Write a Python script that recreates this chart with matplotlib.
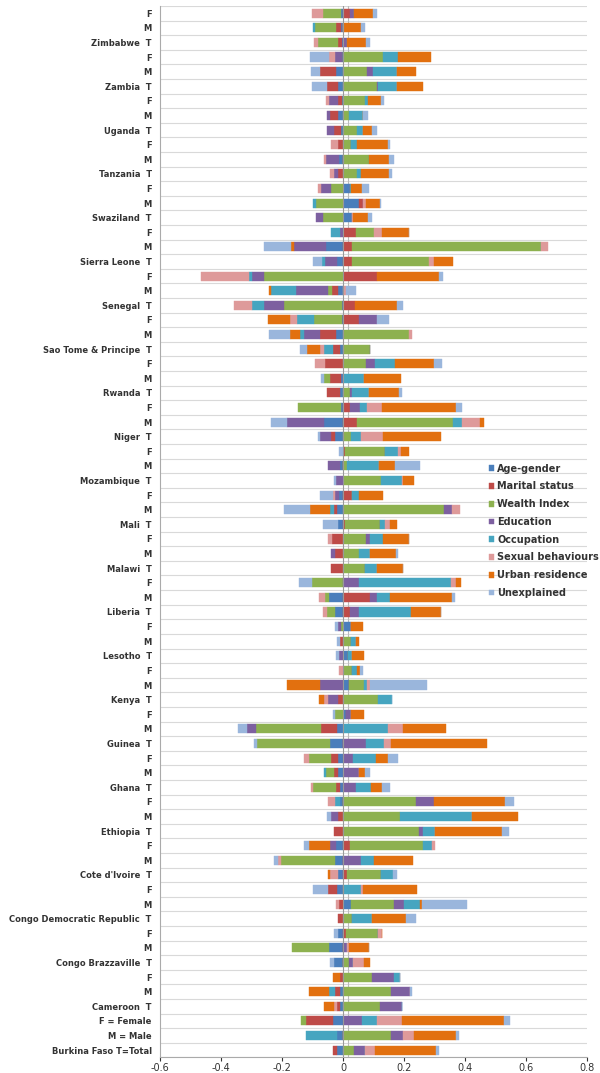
import matplotlib.pyplot as plt
import numpy as np

# countries bottom -> top, each with rows T, M, F
countries = ["Burkina Faso", "Cameroon", "Congo Brazzaville", "Congo Democratic Republic",
             "Cote d'Ivoire", "Ethiopia", "Ghana", "Guinea", "Kenya", "Lesotho", "Liberia",
             "Malawi", "Mali", "Mozambique", "Niger", "Rwanda", "Sao Tome & Principe",
             "Senegal", "Sierra Leone", "Swaziland", "Tanzania", "Uganda", "Zambia", "Zimbabwe"]

series_names = ["Age-gender", "Marital status", "Wealth Index", "Education",
                "Occupation", "Sexual behaviours", "Urban residence", "Unexplained"]
series_colors = ["#4A7EBB", "#BE4B48", "#8DB14F", "#7D60A0",
                 "#46A5C0", "#DE9A9A", "#E2700F", "#9AB6DC"]

# values per row, order: T, M, F for each country (bottom -> top)
age_gender = [
    -0.021, -0.021, -0.034,  -0.011, -0.011, 0.000,  -0.029, -0.046, -0.015,
    0.000, 0.026, -0.021,  -0.016, -0.025, -0.022,  0.000, 0.000, -0.010,
    -0.010, -0.017, -0.018,  -0.043, -0.020, 0.010,  0.000, 0.020, 0.000,
    0.016, 0.000, 0.027,  -0.025, -0.047, 0.000,  0.000, 0.000, 0.000,
    -0.016, -0.020, -0.012,  0.000, -0.010, 0.000,  -0.025, -0.063, -0.008,
    -0.010, -0.008, 0.000,  -0.011, -0.022, -0.005,  -0.005, -0.016, 0.000,
    -0.020, -0.055, 0.000,  0.030, 0.052, 0.022,  0.000, -0.012, 0.000,
    -0.006, -0.016, -0.005,  -0.018, -0.022, -0.005,  -0.005, -0.008, -0.007]
marital = [
    -0.013, 0.000, -0.088,  -0.010, -0.016, -0.009,  0.000, 0.000, 0.010,
    -0.015, -0.013, -0.029,  0.014, 0.000, 0.022,  -0.030, -0.016, 0.000,
    -0.014, -0.014, -0.020,  0.000, -0.052, 0.000,  -0.017, 0.000, 0.000,
    0.000, -0.011, 0.000,  0.024, 0.089, 0.000,  -0.038, -0.027, -0.035,
    0.005, -0.011, 0.029,  0.000, 0.000, 0.008,  -0.014, 0.047, 0.022,
    -0.042, -0.035, -0.060,  -0.023, -0.052, 0.052,  0.038, -0.020, 0.111,
    0.030, 0.030, 0.041,  0.000, 0.015, 0.000,  -0.016, 0.000, -0.017,
    -0.024, -0.026, -0.012,  -0.035, -0.054, 0.000,  -0.010, -0.015, 0.024]
wealth = [
    0.035, 0.157, -0.016,  0.120, 0.157, 0.094,  0.020, -0.123, 0.104,
    0.031, 0.140, 0.000,  0.109, -0.177, 0.242,  0.248, 0.188, 0.240,
    -0.074, -0.024, -0.074,  -0.238, -0.215, -0.027,  0.114, 0.050, 0.029,
    0.000, 0.027, -0.008,  -0.029, -0.013, -0.102,  0.071, 0.051, 0.076,
    0.117, 0.332, 0.000,  0.125, 0.014, 0.130,  0.025, 0.315, -0.140,
    0.024, -0.020, 0.076,  0.087, 0.218, -0.090,  -0.190, -0.013, -0.260,
    0.252, 0.620, 0.060,  -0.065, -0.090, -0.040,  0.047, 0.085, 0.025,
    0.047, 0.020, 0.073,  0.110, 0.079, 0.130,  -0.067, -0.068, -0.060]
education = [
    0.038, 0.041, 0.063,  0.074, 0.063, 0.073,  0.013, 0.012, 0.000,
    0.000, 0.035, 0.000,  0.000, 0.060, -0.022,  0.013, -0.024, 0.057,
    0.041, 0.054, 0.033,  0.076, -0.029, 0.017,  -0.033, -0.075, 0.000,
    -0.014, 0.000, -0.009,  0.030, 0.022, 0.054,  0.000, -0.011, 0.011,
    0.000, 0.024, -0.015,  -0.022, -0.040, 0.000,  -0.035, -0.120, 0.033,
    0.006, 0.000, 0.030,  0.000, -0.055, 0.060,  -0.065, -0.105, -0.040,
    -0.038, -0.105, -0.010,  -0.023, 0.000, -0.032,  -0.013, -0.043, 0.000,
    -0.022, -0.012, -0.030,  0.005, 0.018, -0.020,  0.012, 0.000, 0.011]
occupation = [
    0.000, -0.100, 0.050,  0.000, -0.019, 0.019,  0.000, 0.000, 0.000,
    0.063, 0.050, 0.060,  0.040, 0.043, 0.029,  0.041, 0.234, -0.016,
    0.051, -0.009, 0.076,  0.057, 0.147, 0.000,  0.047, 0.008, 0.017,
    0.014, 0.016, 0.000,  0.170, 0.043, 0.301,  0.041, 0.039, 0.043,
    0.017, -0.013, 0.023,  0.068, 0.103, 0.043,  0.035, 0.027, 0.025,
    0.054, 0.070, 0.066,  -0.027, -0.013, -0.055,  -0.040, -0.082, -0.010,
    -0.011, 0.000, -0.030,  0.000, -0.010, 0.005,  0.013, 0.000, 0.020,
    0.018, 0.046, 0.009,  0.062, 0.079, 0.051,  0.000, -0.009, 0.000]
sexual = [
    0.031, 0.034, 0.079,  -0.010, 0.000, 0.000,  0.036, 0.009, 0.015,
    0.000, -0.009, 0.006,  -0.027, -0.013, 0.009,  0.000, 0.000, -0.022,
    -0.008, 0.000, -0.016,  0.025, 0.049, 0.000,  -0.013, 0.011, -0.014,
    0.000, 0.000, 0.000,  -0.013, -0.018, 0.016,  0.000, 0.000, -0.014,
    0.015, 0.027, -0.005,  0.004, 0.000, 0.010,  0.071, 0.062, 0.049,
    0.000, 0.000, -0.033,  -0.013, 0.008, -0.025,  -0.058, 0.011, -0.157,
    0.016, 0.024, 0.026,  0.004, 0.007, -0.010,  -0.014, -0.009, -0.022,
    0.000, 0.000, -0.010,  0.000, 0.000, -0.020,  -0.014, 0.000, -0.035]
urban = [
    0.200, 0.139, 0.336,  -0.031, -0.065, -0.025,  0.020, 0.063, 0.000,
    0.113, 0.009, 0.176,  -0.006, 0.128, -0.068,  0.220, 0.152, 0.235,
    0.036, 0.018, 0.040,  0.315, 0.141, 0.041,  -0.016, -0.110, 0.010,
    0.038, 0.011, 0.038,  0.099, 0.202, 0.017,  0.086, 0.084, 0.085,
    0.023, -0.063, 0.080,  0.036, 0.054, 0.025,  0.190, 0.011, 0.243,
    0.100, 0.120, 0.127,  -0.043, -0.033, -0.070,  0.140, -0.008, 0.204,
    0.063, -0.011, 0.088,  0.047, 0.046, 0.035,  0.090, 0.067, 0.104,
    0.030, 0.000, 0.041,  0.087, 0.062, 0.107,  0.062, 0.060, 0.063]
unexplained = [
    0.010, 0.011, 0.021,  0.000, 0.005, 0.000,  -0.015, 0.000, -0.014,
    0.033, 0.147, -0.050,  0.014, -0.011, -0.016,  0.024, -0.014, 0.030,
    0.027, 0.016, 0.033,  -0.012, -0.029, -0.005,  0.000, 0.187, 0.011,
    -0.008, -0.008, -0.008,  0.000, 0.010, -0.041,  0.000, 0.008, 0.000,
    -0.051, -0.087, -0.045,  -0.009, 0.082, -0.014,  -0.008, -0.055, 0.020,
    0.008, -0.010, 0.025,  -0.024, -0.068, 0.040,  0.018, 0.033, 0.013,
    -0.030, -0.087, 0.000,  0.013, 0.003, 0.022,  0.011, 0.016, 0.005,
    0.015, 0.016, 0.010,  -0.050, -0.030, -0.065,  0.014, 0.011, 0.013]

all_series = [age_gender, marital, wealth, education, occupation, sexual, urban, unexplained]

# y tick labels
labels = []
for c in countries:
    if c == "Burkina Faso":
        labels += ["Burkina Faso T=Total", "M = Male", "F = Female"]
    else:
        labels += [c + "  T", "M", "F"]

n = len(labels)
y = np.arange(n)

fig = plt.figure(figsize=(6, 10.73), dpi=100)
ax = fig.add_axes([0.267, 0.0145, 0.711, 0.98])

pos_left = np.zeros(n)
neg_left = np.zeros(n)
for vals, name, col in zip(all_series, series_names, series_colors):
    v = np.array(vals)
    left = np.where(v >= 0, pos_left, neg_left)
    ax.barh(y, v, left=left, height=0.62, color=col, label=name,
            edgecolor=col, linewidth=0.3)
    pos_left += np.where(v >= 0, v, 0)
    neg_left += np.where(v < 0, v, 0)

ax.set_xlim(-0.6, 0.8)
ax.set_ylim(-0.5, n - 0.5)
ax.set_xticks(np.arange(-0.6, 0.81, 0.2))
ax.set_xticklabels(["-0.6", "-0.4", "-0.2", "0", "0.2", "0.4", "0.6", "0.8"])
ax.set_yticks(y)
ax.set_yticklabels(labels, fontsize=6.0, fontweight="bold", color="#333333")
ax.tick_params(axis="y", length=0, pad=6)
ax.tick_params(axis="x", labelsize=7, colors="#333333", length=3, pad=1)

# row separators
for b in np.arange(-0.5, n, 1.0):
    ax.axhline(b, color="#D9D9D9", lw=0.8, zorder=0)
ax.axvline(0, color="#999999", lw=0.8, zorder=3)
ax.axvline(0.016, color="#BBBBBB", lw=0.8, zorder=0)

for s in ["top", "right"]:
    ax.spines[s].set_visible(False)
ax.spines["left"].set_color("#AAAAAA")
ax.spines["bottom"].set_color("#AAAAAA")

fig.legend(loc="upper left", bbox_to_anchor=(0.815, 0.568), frameon=False,
           prop={"size": 7, "weight": "bold"}, labelcolor="#333333",
           handlelength=0.55, handleheight=0.55, handletextpad=0.3,
           labelspacing=0.8, borderpad=0, borderaxespad=0)

fig.savefig("out.png", dpi=100)
